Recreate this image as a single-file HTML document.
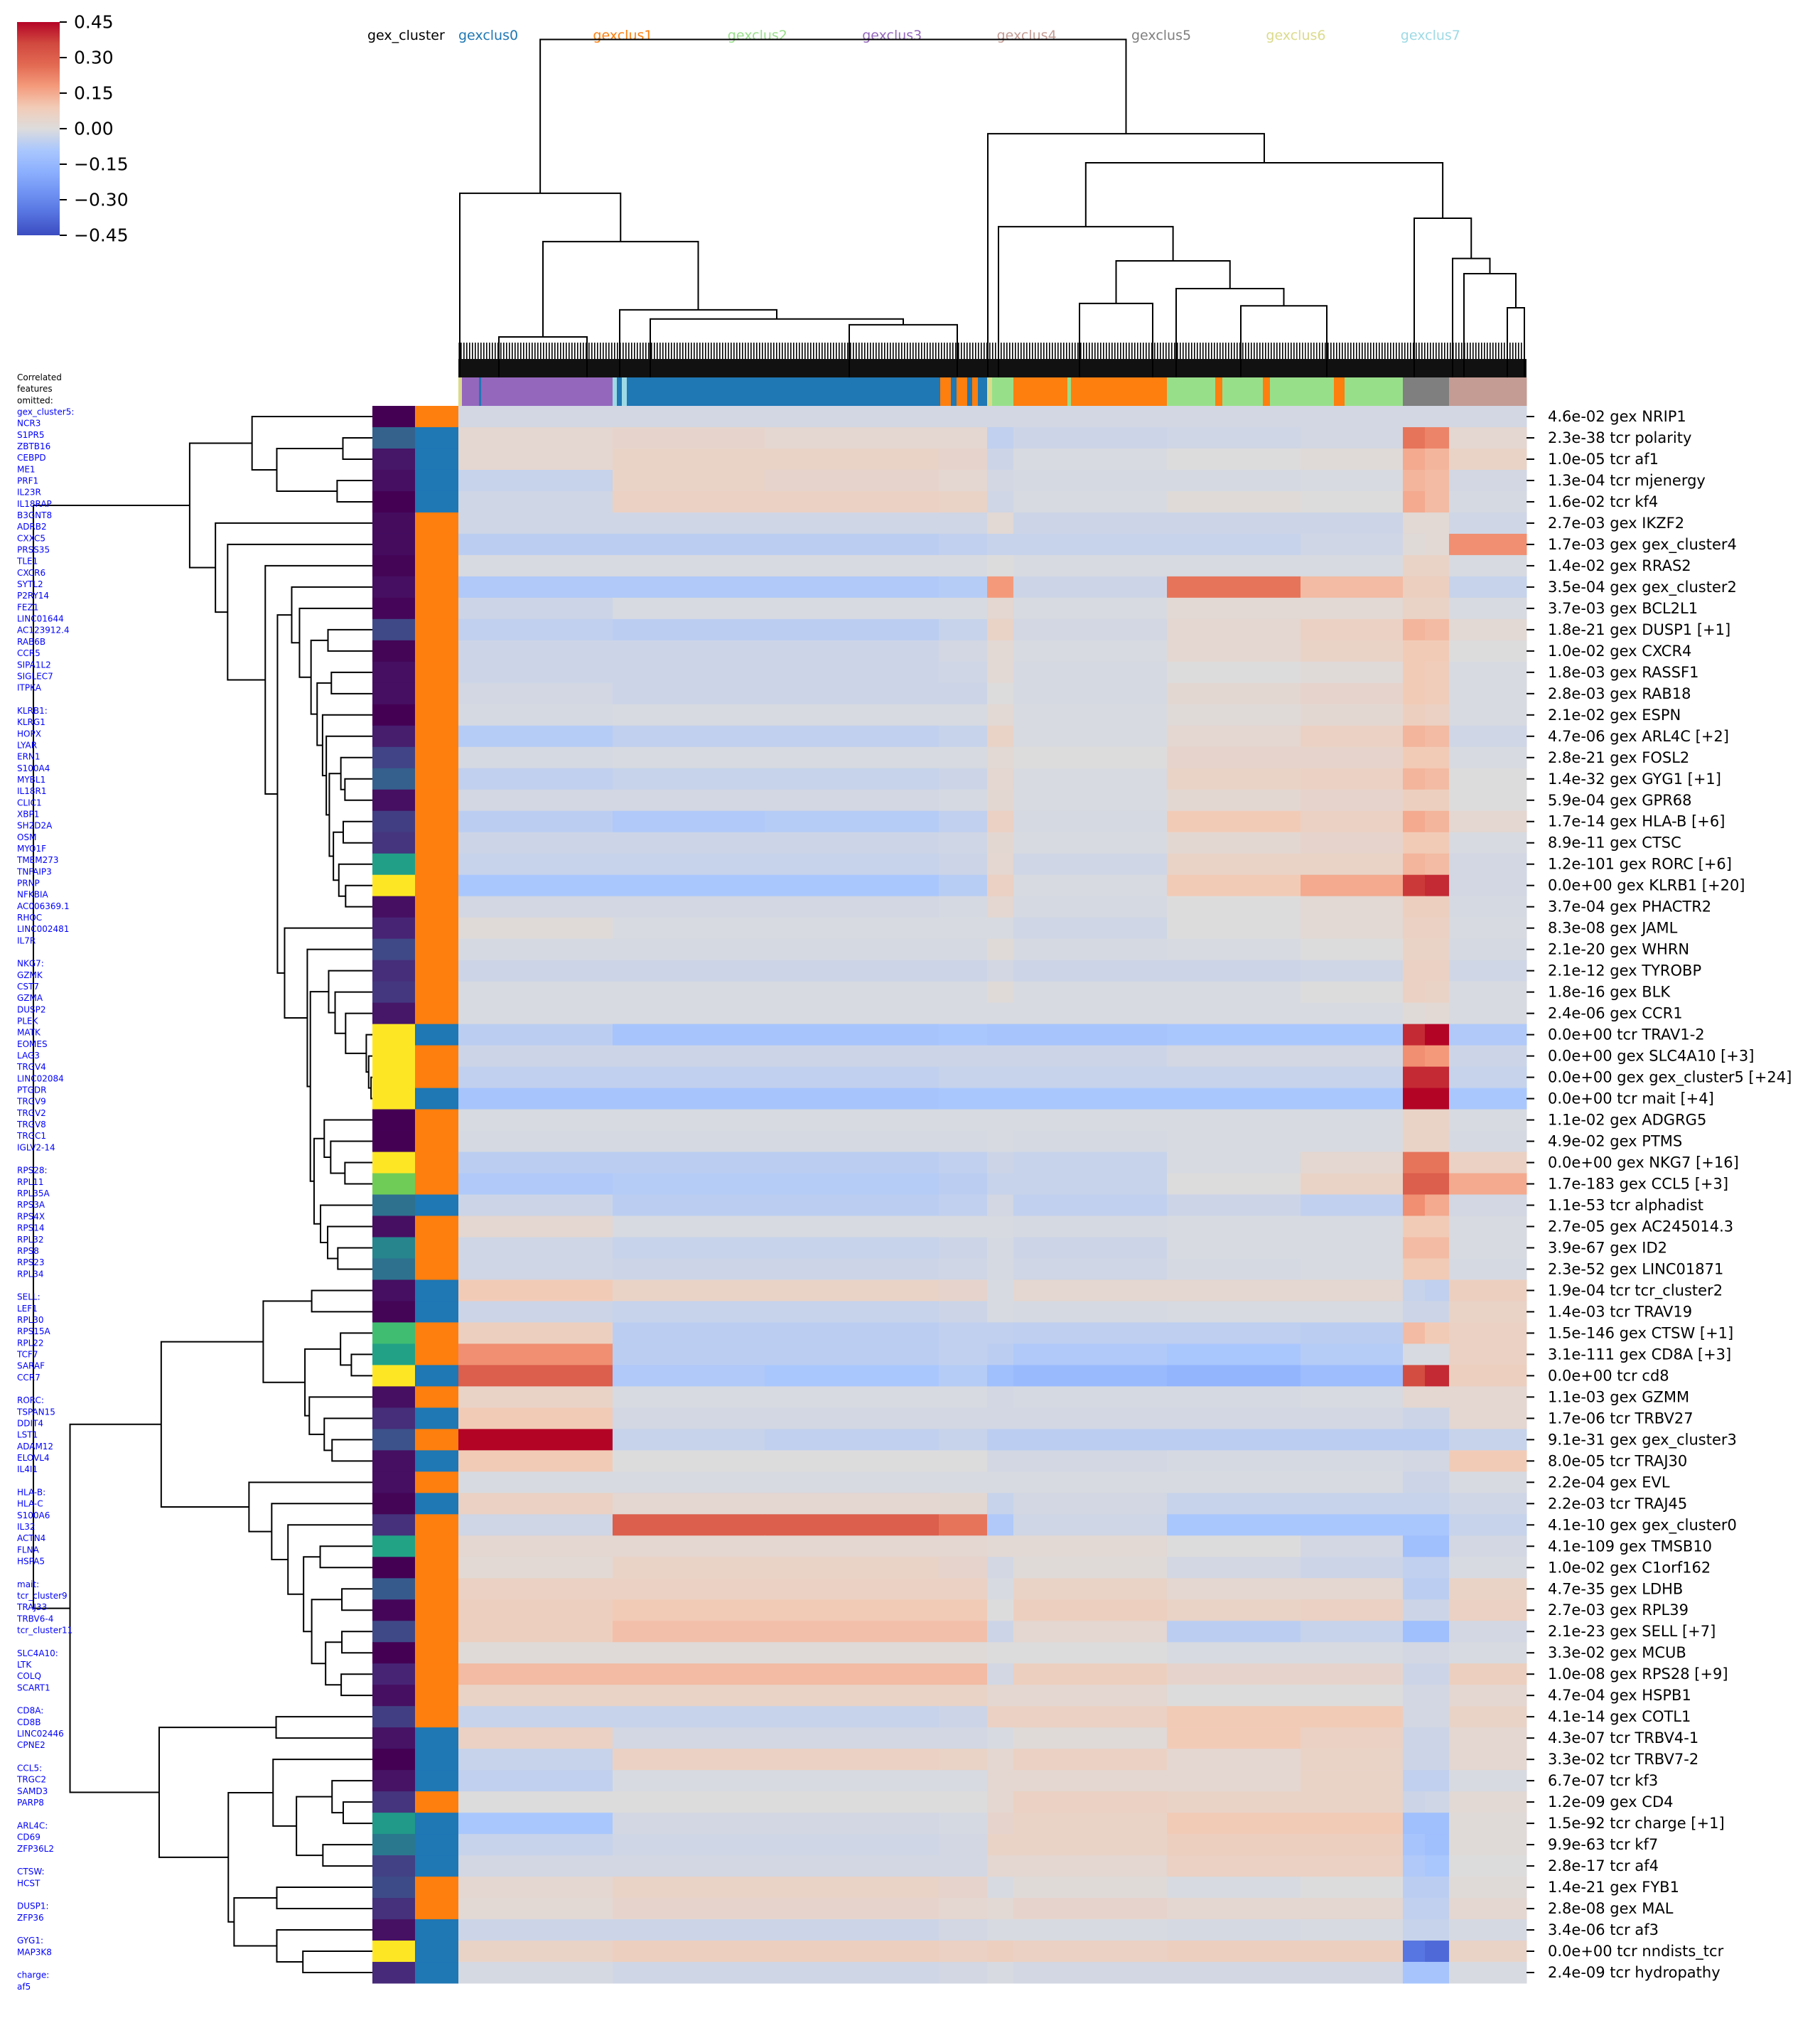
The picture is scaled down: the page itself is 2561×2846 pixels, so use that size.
<!DOCTYPE html>
<html><head><meta charset="utf-8"><style>
html,body{margin:0;padding:0;background:#fff;}
svg text{font-family:"DejaVu Sans","Liberation Sans",sans-serif;}
</style></head><body>
<svg id="chart" width="2561" height="2841" viewBox="0 0 2561 2841" xmlns="http://www.w3.org/2000/svg">
<defs>
<linearGradient id="cbgrad" x1="0" y1="1" x2="0" y2="0">
<stop offset="0" stop-color="#3b4cc0"/><stop offset="0.1" stop-color="#5572df"/><stop offset="0.2" stop-color="#7093f3"/><stop offset="0.3" stop-color="#8db0fe"/><stop offset="0.4" stop-color="#aac7fd"/><stop offset="0.5" stop-color="#dddcdc"/><stop offset="0.6" stop-color="#f2cbb7"/><stop offset="0.7" stop-color="#f49a7b"/><stop offset="0.8" stop-color="#e26952"/><stop offset="0.9" stop-color="#d1493f"/><stop offset="1" stop-color="#b40426"/>
</linearGradient>
<pattern id="fringe" width="4" height="40" patternUnits="userSpaceOnUse"><rect x="0" y="0" width="1.6" height="40" fill="#000"/></pattern>
</defs>
<g id="g-colorbar"></g>
<g id="g-legend"></g>
<g id="g-coldendro"></g>
<g id="g-colbar"></g>
<g id="g-heat"></g>
<g id="g-rowbars"></g>
<g id="g-rowdendro"></g>
<g id="g-rowlabels"></g>
<g id="g-omitted"></g>
</svg>
<script>
// ---------------- DATA ----------------
const rowLabels = ["4.6e-02 gex NRIP1","2.3e-38 tcr polarity","1.0e-05 tcr af1","1.3e-04 tcr mjenergy","1.6e-02 tcr kf4","2.7e-03 gex IKZF2","1.7e-03 gex gex_cluster4","1.4e-02 gex RRAS2","3.5e-04 gex gex_cluster2","3.7e-03 gex BCL2L1","1.8e-21 gex DUSP1 [+1]","1.0e-02 gex CXCR4","1.8e-03 gex RASSF1","2.8e-03 gex RAB18","2.1e-02 gex ESPN","4.7e-06 gex ARL4C [+2]","2.8e-21 gex FOSL2","1.4e-32 gex GYG1 [+1]","5.9e-04 gex GPR68","1.7e-14 gex HLA-B [+6]","8.9e-11 gex CTSC","1.2e-101 gex RORC [+6]","0.0e+00 gex KLRB1 [+20]","3.7e-04 gex PHACTR2","8.3e-08 gex JAML","2.1e-20 gex WHRN","2.1e-12 gex TYROBP","1.8e-16 gex BLK","2.4e-06 gex CCR1","0.0e+00 tcr TRAV1-2","0.0e+00 gex SLC4A10 [+3]","0.0e+00 gex gex_cluster5 [+24]","0.0e+00 tcr mait [+4]","1.1e-02 gex ADGRG5","4.9e-02 gex PTMS","0.0e+00 gex NKG7 [+16]","1.7e-183 gex CCL5 [+3]","1.1e-53 tcr alphadist","2.7e-05 gex AC245014.3","3.9e-67 gex ID2","2.3e-52 gex LINC01871","1.9e-04 tcr tcr_cluster2","1.4e-03 tcr TRAV19","1.5e-146 gex CTSW [+1]","3.1e-111 gex CD8A [+3]","0.0e+00 tcr cd8","1.1e-03 gex GZMM","1.7e-06 tcr TRBV27","9.1e-31 gex gex_cluster3","8.0e-05 tcr TRAJ30","2.2e-04 gex EVL","2.2e-03 tcr TRAJ45","4.1e-10 gex gex_cluster0","4.1e-109 gex TMSB10","1.0e-02 gex C1orf162","4.7e-35 gex LDHB","2.7e-03 gex RPL39","2.1e-23 gex SELL [+7]","3.3e-02 gex MCUB","1.0e-08 gex RPS28 [+9]","4.7e-04 gex HSPB1","4.1e-14 gex COTL1","4.3e-07 tcr TRBV4-1","3.3e-02 tcr TRBV7-2","6.7e-07 tcr kf3","1.2e-09 gex CD4","1.5e-92 tcr charge [+1]","9.9e-63 tcr kf7","2.8e-17 tcr af4","1.4e-21 gex FYB1","2.8e-08 gex MAL","3.4e-06 tcr af3","0.0e+00 tcr nndists_tcr","2.4e-09 tcr hydropathy"];

// heatmap column segments (cell index where each segment starts), total cells
const segStart = [0,217,431,676,744,781,997,1185,1329,1360,1394];
const nCells = 1503;

// heatmap values: one row per feature, one value per column segment
const heatValues = [
[-.02,-.02,-.02,-.02,-.02,-.02,-.02,-.02,-.02,-.02,-.02],
[.03,.04,.03,.03,-.05,-.03,-.025,-.02,.25,.22,.03],
[.03,.05,.05,.04,-.03,-.01,0,.01,.15,.13,.05],
[-.04,.05,.04,.03,-.02,-.015,-.015,-.01,.13,.12,-.02],
[-.025,.06,.06,.05,-.025,-.01,.01,0,.15,.12,-.015],
[-.025,-.025,-.025,-.025,.02,-.03,-.03,-.03,.02,.02,-.025],
[-.06,-.06,-.06,-.05,-.04,-.04,-.04,-.025,.01,.02,.2],
[-.01,-.01,-.01,-.01,0,-.01,-.01,-.01,.05,.05,-.01],
[-.08,-.08,-.08,-.07,.18,-.03,.25,.12,.07,.07,-.04],
[-.03,-.01,-.01,-.01,.03,-.01,.02,.02,.05,.05,-.01],
[-.05,-.06,-.06,-.04,.05,-.02,.03,.06,.13,.12,.02],
[-.03,-.03,-.03,-.02,.02,-.01,.03,.05,.09,.09,0],
[-.03,-.03,-.03,-.025,.02,-.015,0,.01,.09,.08,-.01],
[-.02,-.03,-.03,-.03,0,-.015,.025,.04,.09,.08,-.01],
[-.015,-.01,-.01,-.01,.02,-.01,.01,.025,.07,.06,-.01],
[-.07,-.05,-.05,-.04,.05,-.01,.03,.06,.13,.12,-.025],
[-.015,-.01,-.01,-.01,.02,0,.04,.04,.09,.09,-.01],
[-.05,-.04,-.04,-.03,.03,-.01,.05,.06,.13,.12,0],
[-.02,-.02,-.02,-.015,.025,-.01,.025,.04,.07,.07,0],
[-.06,-.08,-.07,-.05,.06,-.015,.09,.06,.15,.13,.03],
[-.03,-.03,-.03,-.025,.025,-.01,.025,.04,.09,.09,-.01],
[-.04,-.04,-.04,-.03,.03,-.025,.05,.05,.13,.12,-.02],
[-.09,-.09,-.09,-.065,.06,-.01,.09,.15,.38,.4,-.02],
[-.02,-.02,-.02,-.015,.03,-.015,0,.02,.07,.07,-.015],
[.01,-.01,-.01,-.01,-.01,-.025,0,.02,.06,.06,-.01],
[-.015,-.015,-.015,-.015,.01,-.015,-.01,0,.05,.05,-.015],
[-.03,-.03,-.03,-.03,-.02,-.03,-.03,-.025,.06,.06,-.025],
[-.01,-.01,-.01,-.01,.01,-.01,-.01,0,.06,.05,-.01],
[-.01,-.01,-.01,-.01,-.01,-.01,-.01,-.01,.01,.02,-.01],
[-.06,-.1,-.1,-.09,-.1,-.1,-.09,-.09,.4,.45,-.08],
[-.03,-.03,-.03,-.03,-.03,-.03,-.02,-.02,.2,.18,-.03],
[-.05,-.05,-.05,-.04,-.04,-.04,-.04,-.04,.4,.4,-.04],
[-.1,-.1,-.1,-.09,-.09,-.09,-.09,-.09,.45,.45,-.09],
[-.01,-.01,-.01,-.01,-.01,-.01,-.01,-.01,.05,.05,-.01],
[-.015,-.015,-.015,-.015,-.01,-.015,-.01,-.01,.05,.05,-.015],
[-.06,-.06,-.06,-.05,-.03,-.04,-.01,.03,.25,.25,.06],
[-.08,-.07,-.07,-.06,-.04,-.04,0,.05,.3,.3,.15],
[-.03,-.06,-.06,-.05,-.02,-.05,-.03,-.05,.2,.15,-.02],
[.03,-.01,-.01,-.01,-.01,-.015,-.01,-.01,.09,.09,-.01],
[-.025,-.04,-.04,-.03,-.015,-.03,-.01,-.01,.12,.12,-.01],
[-.025,-.03,-.03,-.025,-.015,-.025,-.015,-.01,.09,.09,-.015],
[.09,.05,.05,.04,-.01,.03,.03,.03,-.04,-.05,.07],
[-.03,-.04,-.04,-.03,-.01,-.015,-.01,-.01,-.03,-.03,.05],
[.07,-.06,-.06,-.05,-.05,-.055,-.055,-.06,.12,.09,.06],
[.2,-.06,-.06,-.05,-.06,-.08,-.09,-.07,-.01,-.01,.06],
[.3,-.08,-.09,-.07,-.12,-.14,-.16,-.13,.35,.4,.07],
[.05,-.01,-.01,-.01,-.02,-.015,-.015,-.01,.03,.03,.03],
[.09,-.02,-.02,-.02,-.02,-.02,-.02,-.02,-.03,-.03,.03],
[.45,-.04,-.05,-.04,-.06,-.06,-.06,-.06,-.06,-.06,-.04],
[.09,0,0,0,-.02,-.02,-.015,-.015,-.02,-.02,.09],
[-.01,-.01,-.01,-.01,-.01,-.01,-.01,-.01,-.03,-.03,-.01],
[.06,.03,.03,.025,-.04,-.02,-.04,-.04,-.04,-.04,-.025],
[-.025,.3,.3,.25,-.08,-.025,-.09,-.09,-.09,-.09,-.04],
[.03,.03,.03,.03,.02,.02,0,-.02,-.12,-.12,-.02],
[.02,.05,.05,.04,-.02,.01,-.02,-.03,-.05,-.05,-.01],
[.06,.06,.06,.06,-.01,.05,.03,.03,-.06,-.06,.05],
[.07,.09,.09,.09,0,.07,.05,.06,-.03,-.03,.06],
[.07,.11,.11,.11,-.03,.03,-.06,-.04,-.12,-.12,-.02],
[.01,.01,.01,.01,0,0,-.01,-.01,-.02,-.02,-.01],
[.12,.12,.12,.12,-.02,.07,.04,.04,-.03,-.03,.07],
[.05,.05,.05,.05,.03,.03,0,0,-.02,-.02,.03],
[-.04,-.04,-.04,-.03,.06,.06,.09,.09,-.02,-.02,.05],
[.06,-.02,-.02,-.02,-.01,.01,.09,.06,-.03,-.03,.03],
[-.04,.06,.06,.05,.03,.06,.03,.05,-.03,-.03,.03],
[-.05,-.01,-.01,-.01,.03,.03,.03,.05,-.05,-.05,-.01],
[0,0,0,0,.03,.06,.05,.05,-.03,-.025,.02],
[-.09,-.02,-.02,-.015,.04,.05,.09,.09,-.12,-.12,.01],
[-.04,-.025,-.025,-.02,.05,.05,.07,.07,-.1,-.12,.01],
[-.02,-.02,-.02,-.02,.03,.03,.06,.06,-.08,-.09,0],
[.03,.05,.05,.04,-.01,.01,-.01,0,-.06,-.06,.01],
[.02,.04,.04,.03,.02,.04,.03,.03,-.05,-.05,.03],
[-.03,-.03,-.03,-.02,-.01,-.01,-.015,-.01,-.04,-.04,-.015],
[.05,.07,.07,.06,.07,.06,.07,.07,-.35,-.38,.05],
[-.015,-.025,-.025,-.02,-.01,-.02,-.02,-.02,-.1,-.1,-.01]
];

// row side bars
const rowViridis = [0,.31,.06,.04,0,.03,.03,.01,.04,.015,.22,.01,.04,.04,0,.08,.2,.3,.04,.18,.15,.56,1,.04,.1,.22,.13,.16,.06,1,1,1,1,0,0,1,.78,.37,.04,.45,.37,.04,.01,.69,.57,1,.04,.13,.25,.04,.04,.01,.14,.58,0,.28,.015,.22,0,.1,.04,.18,.05,0,.05,.15,.54,.4,.19,.23,.14,.045,1,.12];
const rowCluster = [1,0,0,0,0,1,1,1,1,1,1,1,1,1,1,1,1,1,1,1,1,1,1,1,1,1,1,1,1,0,1,1,0,1,1,1,1,0,1,1,1,0,0,1,1,0,1,0,1,0,1,0,1,1,1,1,1,1,1,1,1,1,0,0,0,1,0,0,0,1,1,0,0,0];

// column cluster bar segments: cluster id and start cell
const colSegCluster = [6,3,0,3,7,0,7,0,1,0,1,0,1,0,6,2,1,2,1,2,1,2,1,2,1,2,5,4];
const colSegStart   = [0,5,29,32,217,223,230,237,678,693,701,716,723,731,744,751,781,857,862,997,1065,1075,1132,1142,1232,1247,1329,1394];

const clusterNames = ["gexclus0","gexclus1","gexclus2","gexclus3","gexclus4","gexclus5","gexclus6","gexclus7"];
const clusterPalette = ["#1f77b4","#ff7f0e","#98df8a","#9467bd","#c49c94","#7f7f7f","#dbdb8d","#9edae5"];

// row dendrogram: [height, left, right], leaves = row index; heights normalised (root = 1)
const rowTree =
[1.0,
  [0.539,
    [0.355, 0, [0.282, [0.087,1,2], [0.104,3,4]]],
    [0.463, 5, [0.427, 6, [0.316, 7,
      [0.280,
        [0.238, 8, [0.215, 9, [0.181, [0.131,10,11], [0.163, [0.121,12,13], [0.147, 14, [0.136, 15, [0.127, [0.093,16,[0.081,17,18]], [0.115, [0.086,19,20], [0.099,21,[0.079,22,23]]]]]]]]]],
        [0.259, 24, [0.192, 25, [0.183,
          [0.129, 26, [0.110, 27, [0.079, 28, [0.018, 29, [0.011, 30, [0.004,31,32]]]]]],
          [0.172, [0.142, 33, [0.123, 34, [0.081,35,36]]], [0.153, 37, [0.132, 38, [0.102,39,40]]]]
        ]]]
      ]]]]
  ],
  [0.892,
    [0.623,
      [0.322, [0.179,41,42], [0.199, [0.094,43,[0.062,44,45]], [0.186,46,[0.142,47,[0.119,48,49]]]]],
      [0.364, 50, [0.297, 51, [0.249, 52, [0.203, [0.154,53,54], [0.179, [0.090,55,56], [0.138,[0.090,57,58],[0.092,59,60]]]]]]]
    ],
    [0.629,
      [0.284,61,62],
      [0.425,
        [0.293, 63, [0.224, [0.119,64,[0.086,65,66]], [0.146,67,68]]],
        [0.408, [0.282,69,70], [0.282,71,[0.205,72,73]]]
      ]
    ]
  ]
];

// column dendrogram (coarse): leaves = cell index
const colTree =
[1.0,
  [0.545, 2, [0.402, [0.12,57,181], [0.2, 227, [0.173, 270, [0.156,550,702]]]]],
  [0.721, 745, [0.635,
      [0.446, 760, [0.345, [0.219,874,977], [0.263, 1010, [0.212,1101,1222]]]],
      [0.471, 1345, [0.352, 1399, [0.307, 1415, [0.206,1476,1500]]]]
  ]]
];

const cbTicks = [0.45,0.30,0.15,0.00,-0.15,-0.30,-0.45];
const legendLabels = clusterNames;

const omittedLines = ["Correlated","features","omitted:","gex_cluster5:","NCR3","S1PR5","ZBTB16","CEBPD","ME1","PRF1","IL23R","IL18RAP","B3GNT8","ADRB2","CXXC5","PRSS35","TLE1","CXCR6","SYTL2","P2RY14","FEZ1","LINC01644","AC123912.4","RAB6B","CCR5","SIPA1L2","SIGLEC7","ITPKA","","KLRB1:","KLRG1","HOPX","LYAR","ERN1","S100A4","MYBL1","IL18R1","CLIC1","XBP1","SH2D2A","OSM","MYO1F","TMEM273","TNFAIP3","PRNP","NFKBIA","AC006369.1","RHOC","LINC002481","IL7R","","NKG7:","GZMK","CST7","GZMA","DUSP2","PLEK","MATK","EOMES","LAG3","TRGV4","LINC02084","PTGDR","TRGV9","TRGV2","TRGV8","TRGC1","IGLV2-14","","RPS28:","RPL11","RPL35A","RPS3A","RPS4X","RPS14","RPL32","RPS8","RPS23","RPL34","","SELL:","LEF1","RPL30","RPS15A","RPL22","TCF7","SARAF","CCR7","","RORC:","TSPAN15","DDIT4","LST1","ADAM12","ELOVL4","IL4I1","","HLA-B:","HLA-C","S100A6","IL32","ACTN4","FLNA","HSPA5","","mait:","tcr_cluster9","TRAJ33","TRBV6-4","tcr_cluster11","","SLC4A10:","LTK","COLQ","SCART1","","CD8A:","CD8B","LINC02446","CPNE2","","CCL5:","TRGC2","SAMD3","PARP8","","ARL4C:","CD69","ZFP36L2","","CTSW:","HCST","","DUSP1:","ZFP36","","GYG1:","MAP3K8","","charge:","af5"];

// ---------------- LAYOUT ----------------
const NS = "http://www.w3.org/2000/svg";
const HX0 = 645, HX1 = 2148, HY0 = 571, HY1 = 2790;
const nRows = heatValues.length;
const rowH = (HY1 - HY0) / nRows;
const cellX = c => HX0 + c / nCells * (HX1 - HX0);
const rowY = r => HY0 + r * rowH;
const vmin = -0.45, vmax = 0.45;

const cw = [[0,[59,76,192]],[.1,[85,114,223]],[.2,[112,147,243]],[.3,[141,176,254]],[.4,[170,199,253]],[.5,[221,220,220]],[.6,[242,203,183]],[.7,[244,154,123]],[.8,[226,105,82]],[.9,[209,73,63]],[1,[180,4,38]]];
function interp(stops, t){ t=Math.max(0,Math.min(1,t)); for(let i=1;i<stops.length;i++){ if(t<=stops[i][0]){ const a=stops[i-1],b=stops[i]; const f=(t-a[0])/(b[0]-a[0]); const c=a[1].map((v,k)=>Math.round(v+(b[1][k]-v)*f)); return `rgb(${c[0]},${c[1]},${c[2]})`; } } const l=stops[stops.length-1][1]; return `rgb(${l[0]},${l[1]},${l[2]})`; }
const coolwarm = v => interp(cw, (v - vmin) / (vmax - vmin));
const vir = [[0,[68,1,84]],[.1,[72,36,117]],[.2,[65,68,135]],[.3,[53,95,141]],[.4,[42,120,142]],[.5,[33,145,140]],[.6,[34,168,132]],[.7,[68,191,112]],[.8,[122,209,81]],[.9,[189,223,38]],[1,[253,231,37]]];
const viridis = t => interp(vir, t);

function mk(tag, attrs, parent){ const e=document.createElementNS(NS,tag); for(const k in attrs) e.setAttribute(k, attrs[k]); parent.appendChild(e); return e; }

// heatmap
const gHeat = document.getElementById('g-heat');
heatValues.forEach((row, r) => {
  row.forEach((v, s) => {
    const x0 = cellX(segStart[s]);
    const x1 = cellX(s+1 < segStart.length ? segStart[s+1] : nCells);
    const el = mk('rect', {x:x0, y:rowY(r), width:x1-x0+0.5, height:rowH+0.5, fill:coolwarm(v)}, gHeat);
    
    
  });
});

// row side bars
const gRB = document.getElementById('g-rowbars');
rowViridis.forEach((t, r) => {
  const el = mk('rect', {x:524, y:rowY(r), width:60, height:rowH+0.5, fill:viridis(t)}, gRB);
  
  
});
rowCluster.forEach((c, r) => {
  const el = mk('rect', {x:584, y:rowY(r), width:61, height:rowH+0.5, fill:clusterPalette[c]}, gRB);
  
  
});

// column cluster bar
const gCB = document.getElementById('g-colbar');
colSegCluster.forEach((c, i) => {
  const x0 = cellX(colSegStart[i]);
  const x1 = cellX(i+1 < colSegStart.length ? colSegStart[i+1] : nCells);
  const el = mk('rect', {x:x0, y:531, width:x1-x0+0.5, height:40, fill:clusterPalette[c]}, gCB);
  
  
});

// row dendrogram (horizontal): leaves at x=524, root at x=47
const gRD = document.getElementById('g-rowdendro');
const rdX = h => 524 - h * (524 - 47);
function drawRow(node){
  if (typeof node === 'number') return {y: rowY(node) + rowH/2, x: 524};
  const a = drawRow(node[1]), b = drawRow(node[2]);
  const x = rdX(node[0]);
  const p = mk('path', {d:`M${a.x},${a.y}H${x}V${b.y}H${b.x}`, fill:'none', stroke:'#000', 'stroke-width':2}, gRD);
  
  
  return {x:x, y:(a.y+b.y)/2};
}
drawRow(rowTree);

// column dendrogram (vertical): leaves at y=531, root at y=55.5
const gCD = document.getElementById('g-coldendro');
const cdY = h => 531 - h * (531 - 55.5);
const fr1 = mk('rect', {x:HX0, y:482, width:HX1-HX0, height:24, fill:'url(#fringe)'}, gCD);


const fr2 = mk('rect', {x:HX0, y:505, width:HX1-HX0, height:26, fill:'#111'}, gCD);


function drawCol(node){
  if (typeof node === 'number') return {x: cellX(node), y: 531};
  const a = drawCol(node[1]), b = drawCol(node[2]);
  const y = cdY(node[0]);
  const p = mk('path', {d:`M${a.x},${a.y}V${y}H${b.x}V${b.y}`, fill:'none', stroke:'#000', 'stroke-width':2}, gCD);
  
  
  return {x:(a.x+b.x)/2, y:y};
}
drawCol(colTree);

// row labels + ticks
const gRL = document.getElementById('g-rowlabels');
rowLabels.forEach((lab, r) => {
  const cy = rowY(r) + rowH/2;
  const t = mk('line', {x1:2148, x2:2159, y1:cy, y2:cy, stroke:'#000', 'stroke-width':2}, gRL);
  
  
  const tx = mk('text', {x:2178, y:cy, 'font-size':21, 'dominant-baseline':'central', fill:'#000'}, gRL);
  tx.textContent = lab;
  
  
});

// omitted features list
const gOm = document.getElementById('g-omitted');
omittedLines.forEach((s, i) => {
  if (!s) return;
  const tx = mk('text', {x:24, y:531 + i*16.17, 'font-size':12, 'dominant-baseline':'central', fill: i < 3 ? '#000' : '#0000ff'}, gOm);
  tx.textContent = s;
  
  
});

// colorbar
const gC = document.getElementById('g-colorbar');
const cbr = mk('rect', {x:24, y:31, width:60, height:300, fill:'url(#cbgrad)'}, gC);


const cbY = v => 31 + (vmax - v) / (vmax - vmin) * 300;
cbTicks.forEach(v => {
  const y = cbY(v);
  const l = mk('line', {x1:84, x2:94, y1:y, y2:y, stroke:'#000', 'stroke-width':2}, gC);
  
  
  const t = mk('text', {x:104, y:y, 'font-size':25, 'dominant-baseline':'central', fill:'#000'}, gC);
  t.textContent = (v < 0 ? '\u2212' : '') + Math.abs(v).toFixed(2);
  
  
});

// legend
const gL = document.getElementById('g-legend');
const lt = mk('text', {x:517, y:50, 'font-size':19, 'dominant-baseline':'central', fill:'#000'}, gL);
lt.textContent = 'gex_cluster';


legendLabels.forEach((s, i) => {
  const t = mk('text', {x:645 + i*189.4, y:50, 'font-size':19, 'dominant-baseline':'central', fill:clusterPalette[i]}, gL);
  t.textContent = s;
  
  
});
</script>
</body></html>
